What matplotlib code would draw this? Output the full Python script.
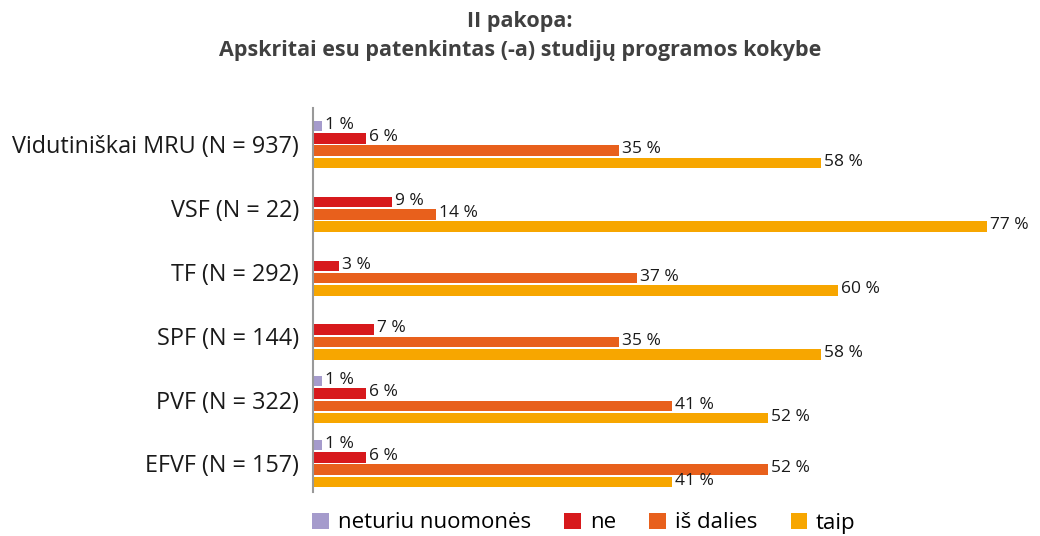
import numpy as np
import matplotlib
matplotlib.use("Agg")
import matplotlib.pyplot as plt
from matplotlib.patches import Patch

plt.rcParams['font.family'] = ['Open Sans', 'DejaVu Sans']

CATEGORIES = ['Vidutiniškai MRU (N = 937)', 'VSF (N = 22)', 'TF (N = 292)',
              'SPF (N = 144)', 'PVF (N = 322)', 'EFVF (N = 157)']
SERIES = ['neturiu nuomonės', 'ne', 'iš dalies', 'taip']
COLORS = ['#A59BCC', '#D7191C', '#E8601C', '#F7A600']

neturiu = [1, 0, 0, 0, 1, 1]
ne = [6, 9, 3, 7, 6, 6]
is_dalies = [35, 14, 37, 35, 41, 52]
taip = [58, 77, 60, 58, 52, 41]
VALUES = [neturiu, ne, is_dalies, taip]

TITLE = 'II pakopa:\nApskritai esu patenkintas (-a) studijų programos kokybe'

fig = plt.figure(figsize=(10.4, 5.36), dpi=100)
# axes in pixel coords: left 313, right 1030, top 108, bottom 492
ax = fig.add_axes([313 / 1040, 1 - 492 / 536, (1030 - 313) / 1040, (492 - 108) / 536])

step = 12.3 / 63.8
height = 10.5 / 63.8
y0 = np.arange(len(CATEGORIES))
for k, (name, vals, col) in enumerate(zip(SERIES, VALUES, COLORS)):
    y = y0 + (k - 1.5) * step
    for yi, v in zip(y, vals):
        if v == 0:
            continue
        ax.barh(yi, v, height=height, color=col, linewidth=0)
        ax.text(v + 0.35, yi - 0.02, f'{v} %', va='center', ha='left', fontsize=12.5,
                color='#1a1a1a')

ax.set_xlim(0, (1030 - 313) / 8.753)
ax.set_ylim(5.447, -0.572)
ax.set_yticks(y0)
ax.set_yticklabels(CATEGORIES, fontsize=16.8, color='#1a1a1a')
ax.tick_params(axis='y', length=0, pad=10)
ax.set_xticks([])
for s in ['top', 'right', 'bottom']:
    ax.spines[s].set_visible(False)
ax.spines['left'].set_color('#999999')
ax.spines['left'].set_linewidth(1.5)

fig.text(0.5, 1 - 36 / 536, TITLE, ha='center', va='center', fontsize=15.5,
         fontweight='bold', color='#404040', linespacing=1.45)

handles = [Patch(facecolor=c, edgecolor='none') for c in COLORS]
fig.legend(handles, SERIES, loc='center', bbox_to_anchor=(584 / 1040, 1 - 523 / 536),
           ncol=4, frameon=False, fontsize=16, handlelength=0.75, handleheight=0.75,
           handletextpad=0.4, columnspacing=1.5)

fig.savefig('out.png', dpi=100)
